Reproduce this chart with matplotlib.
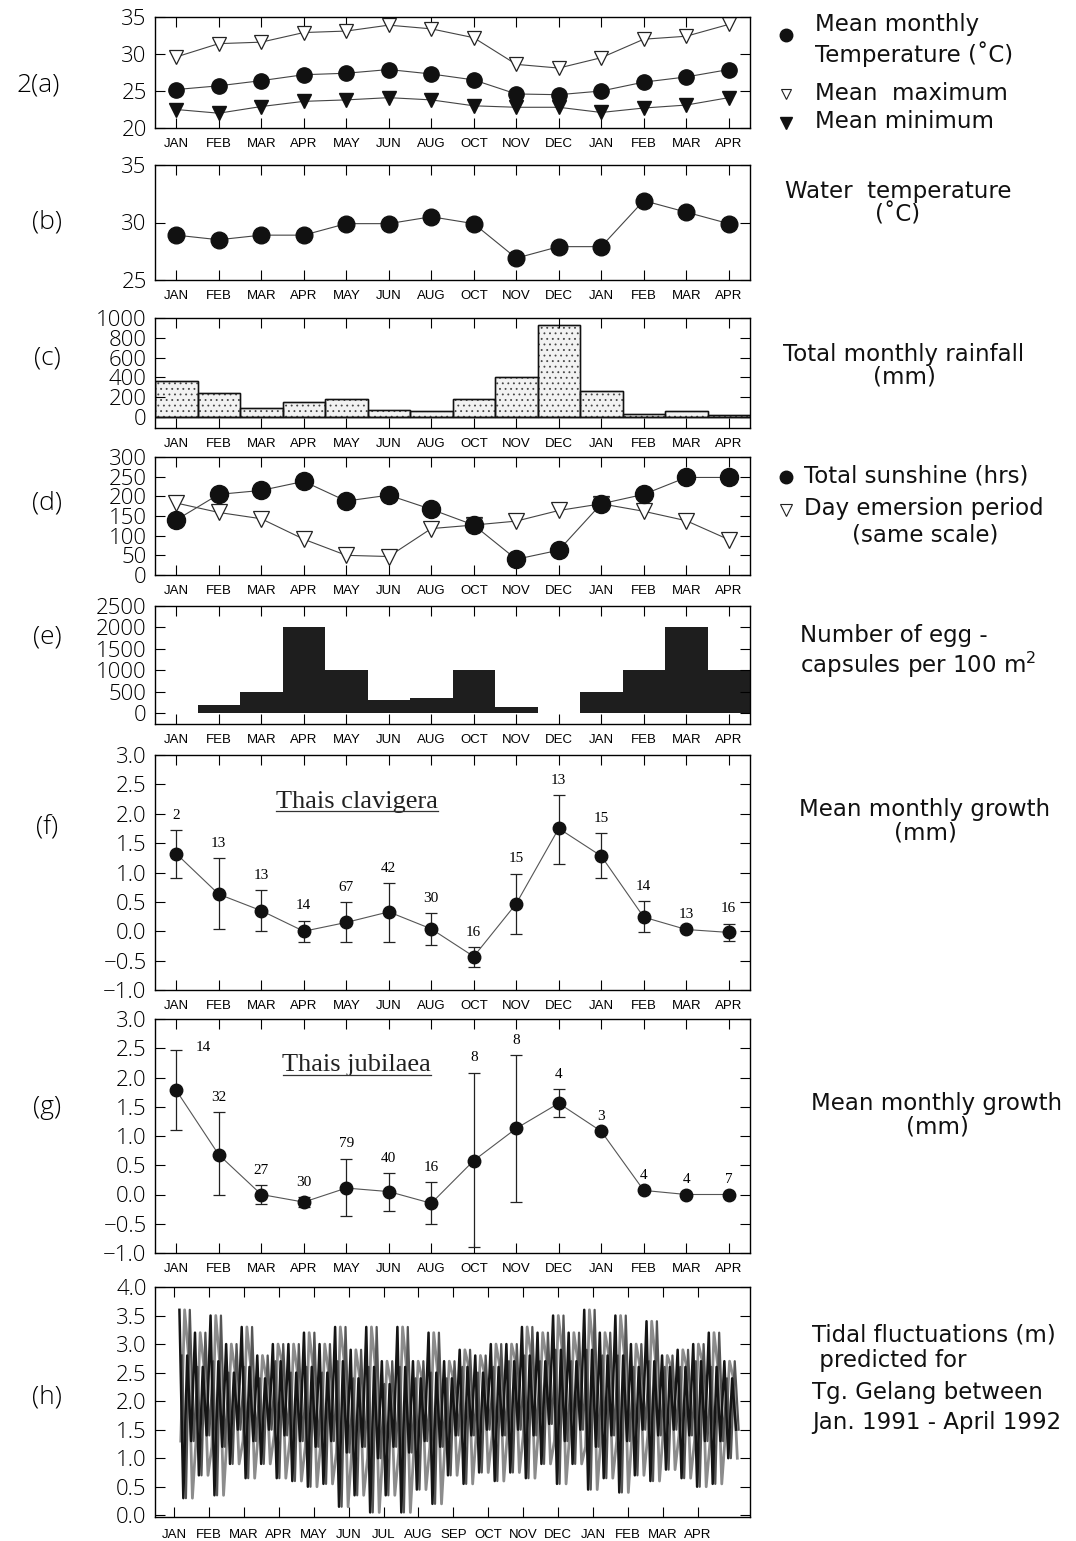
import numpy as np
import matplotlib.pyplot as plt
from matplotlib.lines import Line2D

plt.rcParams['font.family'] = ['DejaVu Sans']
plt.rcParams['hatch.linewidth'] = 0.6

months = ["JAN", "FEB", "MAR", "APR", "MAY", "JUN", "AUG", "OCT",
          "NOV", "DEC", "JAN", "FEB", "MAR", "APR"]
tide_months = ["JAN", "FEB", "MAR", "APR", "MAY", "JUN", "JUL", "AUG",
               "SEP", "OCT", "NOV", "DEC", "JAN", "FEB", "MAR", "APR"]

# (a) air temperature
temp_mean = [25.2, 25.7, 26.4, 27.2, 27.4, 27.9, 27.3, 26.5, 24.6, 24.5, 25.0, 26.2, 26.9, 27.9]
temp_max = [29.6, 31.4, 31.6, 32.9, 33.1, 33.9, 33.4, 32.2, 28.6, 28.1, 29.5, 32.0, 32.4, 34.0]
temp_min = [22.5, 22.0, 22.9, 23.6, 23.8, 24.1, 23.8, 23.0, 22.8, 22.8, 22.1, 22.7, 23.1, 24.1]
# (b) water temperature
water_temp = [28.9, 28.5, 28.9, 28.9, 29.9, 29.9, 30.5, 29.9, 26.9, 27.9, 27.9, 31.9, 30.9, 29.9]
# (c) rainfall (mm)
rainfall = [365, 245, 95, 155, 180, 72, 65, 180, 405, 930, 260, 30, 60, 25]
# (d) sunshine and emersion
sunshine = [140, 205, 215, 238, 188, 203, 167, 127, 40, 63, 181, 205, 248, 248]
emersion = [183, 159, 143, 91, 50, 47, 118, 127, 137, 164, 181, 162, 138, 90]
# (e) egg capsules per 100 m2
eggs = [0, 200, 500, 2000, 1000, 300, 350, 1000, 150, 0, 500, 1000, 2000, 1000]
# (f) Thais clavigera growth
clav_mean = [1.32, 0.63, 0.35, 0.0, 0.15, 0.33, 0.04, -0.43, 0.47, 1.75, 1.28, 0.24, 0.03, -0.02]
clav_hi = [1.72, 1.24, 0.70, 0.18, 0.49, 0.82, 0.31, -0.27, 0.98, 2.32, 1.67, 0.51, 0.03, 0.13]
clav_lo = [0.90, 0.03, 0.00, -0.19, -0.19, -0.18, -0.24, -0.60, -0.04, 1.15, 0.90, -0.02, 0.03, -0.16]
clav_n = [2, 13, 13, 14, 67, 42, 30, 16, 15, 13, 15, 14, 13, 16]
# (g) Thais jubilaea growth
jub_mean = [1.78, 0.68, 0.0, -0.13, 0.11, 0.05, -0.15, 0.58, 1.13, 1.56, 1.08, 0.07, 0.0, 0.0]
jub_hi = [2.47, 1.41, 0.16, -0.05, 0.61, 0.37, 0.21, 2.08, 2.38, 1.80, 1.08, 0.07, 0.0, 0.0]
jub_lo = [1.10, -0.01, -0.16, -0.22, -0.37, -0.28, -0.50, -0.90, -0.12, 1.32, 1.08, 0.07, 0.0, 0.0]
jub_n = [14, 32, 27, 30, 79, 40, 16, 8, 8, 4, 3, 4, 4, 7]
# (h) predicted tide heights (m), read cycle by cycle
spring_hi = [3.6, 3.2, 3.5, 3.0, 3.3, 2.8, 3.0, 3.0, 3.2, 3.0, 3.3, 2.9, 3.3, 2.7, 3.3, 2.7, 3.2, 2.7,
             2.9, 2.8, 3.0, 3.0, 3.3, 3.2, 3.5, 3.2, 3.6, 3.2, 3.5, 3.0, 3.4, 2.8, 2.9, 3.0, 3.2, 2.7]
spring_lo = [0.3, 0.7, 0.35, 0.9, 0.65, 0.9, 0.65, 0.6, 0.5, 0.55, 0.15, 0.35, 0.05, 0.35, 0.05, 0.45, 0.2, 0.7,
             0.55, 0.75, 0.6, 0.75, 0.65, 0.9, 0.55, 0.9, 0.45, 0.65, 0.4, 0.7, 0.6, 0.8, 0.65, 0.5, 0.55, 1.0]
neap_hi = [2.8, 2.6, 2.7, 2.5, 2.6, 2.4, 2.7, 2.5, 2.6, 2.5, 2.7, 2.4, 2.6, 2.3, 2.6, 2.4, 2.5, 2.4,
           2.6, 2.5, 2.6, 2.7, 2.8, 2.7, 2.9, 2.7, 2.9, 2.8, 2.8, 2.6, 2.7, 2.6, 2.6, 2.7, 2.6, 2.4]
neap_lo = [1.3, 1.4, 1.2, 1.5, 1.3, 1.5, 1.4, 1.3, 1.2, 1.3, 1.1, 1.2, 1.0, 1.2, 1.1, 1.3, 1.2, 1.4,
           1.4, 1.5, 1.4, 1.5, 1.4, 1.6, 1.3, 1.5, 1.2, 1.4, 1.3, 1.5, 1.4, 1.5, 1.4, 1.3, 1.3, 1.5]

W, H = 1076, 1541
fig = plt.figure(figsize=(W / 100, H / 100), dpi=100)
thin = ["Open Sans", "DejaVu Sans"]


def panel(top, bottom, left=155, right=750):
    return fig.add_axes([left / W, 1 - bottom / H, (right - left) / W, (bottom - top) / H])


def style(ax, labels=months):
    ax.tick_params(direction="in", top=True, right=True, length=7, width=0.8)
    ax.tick_params(axis="y", labelsize=16, pad=6)
    ax.tick_params(axis="x", labelsize=9.5, pad=7)
    for lab in ax.get_yticklabels():
        lab.set_fontfamily(thin)
        lab.set_fontweight("light")
    for lab in ax.get_xticklabels():
        lab.set_fontfamily(["Liberation Sans"])
    for s in ax.spines.values():
        s.set_linewidth(1.0)
    ax.set_xticks(range(len(labels)))
    ax.set_xticklabels(labels)


x = np.arange(len(months))
xl = (-0.5, 13.5)
line_kw = dict(color="#444", lw=0.8)

# (a)
ax = panel(17, 128)
ax.plot(x, temp_max, marker="v", ms=10, mfc="white", mec="#222", mew=0.9, **line_kw)
ax.plot(x, temp_mean, marker="o", ms=11, mfc="#111", mec="#111", **line_kw)
ax.plot(x, temp_min, marker="v", ms=10, mfc="#111", mec="#111", **line_kw)
ax.set_xlim(xl)
ax.set_ylim(20, 35)
ax.set_yticks([20, 25, 30, 35])
style(ax)

# (b)
ax = panel(165, 280)
ax.plot(x, water_temp, marker="o", ms=12, mfc="#111", mec="#111", **line_kw)
ax.set_xlim(xl)
ax.set_ylim(25, 35)
ax.set_yticks([25, 30, 35])
style(ax)

# (c)
ax = panel(318, 428)
ax.bar(x, rainfall, width=1.0, facecolor="#f2f2f2", edgecolor="#444", hatch="...", lw=1.0)
ax.bar(x, rainfall, width=1.0, facecolor="none", edgecolor="#111", lw=1.0)
ax.axhline(0, color="#111", lw=1.0)
ax.set_xlim(xl)
ax.set_ylim(-110, 1000)
ax.set_yticks(range(0, 1001, 200))
style(ax)

# (d)
ax = panel(457, 575)
ax.plot(x, emersion, marker="v", ms=12, mfc="white", mec="#222", mew=0.9, **line_kw)
ax.plot(x, sunshine, marker="o", ms=13, mfc="#111", mec="#111", **line_kw)
ax.set_xlim(xl)
ax.set_ylim(0, 300)
ax.set_yticks(range(0, 301, 50))
style(ax)

# (e)
ax = panel(606, 724)
ax.bar(x, eggs, width=1.0, color="#1e1e1e", lw=0)
ax.set_xlim(xl)
ax.set_ylim(-250, 2500)
ax.set_yticks(range(0, 2501, 500))
style(ax)


def growth(ax, mean, hi, lo, n, title, first_right=False):
    mean = np.array(mean)
    err = [mean - np.array(lo), np.array(hi) - mean]
    ax.errorbar(x, mean, yerr=err, fmt="o", ms=9, color="#111", ecolor="#222",
                elinewidth=0.9, capsize=4, capthick=0.9, zorder=3)
    ax.plot(x, mean, color="#555", lw=0.8, zorder=2)
    for i, (xi, top, num) in enumerate(zip(x, hi, n)):
        if i == 0 and first_right:
            ax.annotate(str(num), (xi, top), xytext=(14, 2), textcoords="offset points",
                        ha="left", va="center", fontsize=11, family="Liberation Serif")
        else:
            ax.annotate(str(num), (xi, max(top, mean[i])), xytext=(0, 6),
                        textcoords="offset points", ha="center", va="bottom",
                        fontsize=11, family="Liberation Serif")
    t = ax.text(4.25, 2.02, title, ha="center", va="bottom", fontsize=19,
                family="Liberation Serif", color="#222")
    ax.set_xlim(xl)
    ax.set_ylim(-1.0, 3.0)
    ticks = np.arange(-1.0, 3.01, 0.5)
    ax.set_yticks(ticks)
    ax.set_yticklabels([f"{v:.1f}".replace("-", "\u2212") for v in ticks])
    style(ax)
    return t


ax_f = panel(755, 990)
t_f = growth(ax_f, clav_mean, clav_hi, clav_lo, clav_n, "Thais clavigera")
ax_g = panel(1019, 1253)
t_g = growth(ax_g, jub_mean, jub_hi, jub_lo, jub_n, "Thais jubilaea", first_right=True)

# (h) tide
ax = panel(1287, 1517)
cycles = np.column_stack([spring_hi, spring_lo, neap_hi, neap_lo])
seq_a = np.ravel(cycles)
seq_b = np.ravel(cycles[:, [3, 0, 2, 1]])
seq_c = np.ravel(cycles[:, [2, 1, 0, 3]])
tx = np.linspace(0.15, 16.1, len(seq_a))
step = tx[1] - tx[0]
ax.plot(tx + step / 3, seq_b, color="#8c8c8c", lw=2.0)
ax.plot(tx + 2 * step / 3, seq_c, color="#555555", lw=1.6)
ax.plot(tx, seq_a, color="#151515", lw=1.8)
ax.set_xlim(-0.55, 16.5)
ax.set_ylim(-0.03, 4.0)
ticks = np.arange(0, 4.01, 0.5)
ax.set_yticks(ticks)
ax.set_yticklabels([f"{v:.1f}" for v in ticks])
style(ax, tide_months)
ax.tick_params(axis="x", pad=9)

# underline species names
fig.canvas.draw()
for t in [t_f, t_g]:
    bb = t.get_window_extent().transformed(fig.transFigure.inverted())
    fig.add_artist(Line2D([bb.x0, bb.x1], [bb.y0 + 0.001, bb.y0 + 0.001],
                          transform=fig.transFigure, color="#333", lw=0.9))

# panel letters
letter_kw = dict(fontsize=19, ha="center", va="center", family=thin, fontweight="light")
for lab, yy in [("2(a)", 85), ("(b)", 222), ("(c)", 358), ("(d)", 503), ("(e)", 637),
                ("(f)", 828), ("(g)", 1108), ("(h)", 1397)]:
    fig.text((38 if lab == "2(a)" else 47) / W, 1 - yy / H, lab, **letter_kw)

# right-hand descriptions
txt_kw = dict(fontsize=16.5, color="#111")


def ftext(px, py, s, **kw):
    d = dict(txt_kw)
    d.update(kw)
    fig.text(px / W, 1 - py / H, s, **d)


def fmark(px, py, **kw):
    fig.add_artist(Line2D([px / W], [1 - py / H], transform=fig.transFigure, ls="none", **kw))


fmark(786, 35, marker="o", ms=9, mfc="#111", mec="#111")
ftext(815, 25, "Mean monthly", va="center")
ftext(815, 54, "Temperature (\u02daC)", va="center")
fmark(786, 94, marker="v", ms=7, mfc="white", mec="#222", mew=0.8)
ftext(815, 93, "Mean  maximum", va="center")
fmark(786, 123, marker="v", ms=8, mfc="#111", mec="#111")
ftext(815, 122, "Mean minimum", va="center")

ftext(898, 203, "Water  temperature\n(\u02daC)", ha="center", va="center", linespacing=1.0)
ftext(904, 366, "Total monthly rainfall\n(mm)", ha="center", va="center", linespacing=1.0)

fmark(786, 477, marker="o", ms=9, mfc="#111", mec="#111")
ftext(804, 476, "Total sunshine (hrs)", va="center")
fmark(786, 510, marker="v", ms=8, mfc="white", mec="#222", mew=0.8)
ftext(804, 508, "Day emersion period", va="center")
ftext(925, 535, "(same scale)", ha="center", va="center")

ftext(800, 635, "Number of egg -", va="center")
ftext(800, 665, "capsules per 100 m$^2$", va="center")

ftext(925, 821, "Mean monthly growth\n(mm)", ha="center", va="center", linespacing=1.0)
ftext(937, 1115, "Mean monthly growth\n(mm)", ha="center", va="center", linespacing=1.0)

ftext(812, 1335, "Tidal fluctuations (m)", va="center")
ftext(812, 1361, " predicted for", va="center")
ftext(812, 1392, "Tg. Gelang between", va="center")
ftext(812, 1423, "Jan. 1991 - April 1992", va="center")

plt.savefig("out.png", dpi=100)
